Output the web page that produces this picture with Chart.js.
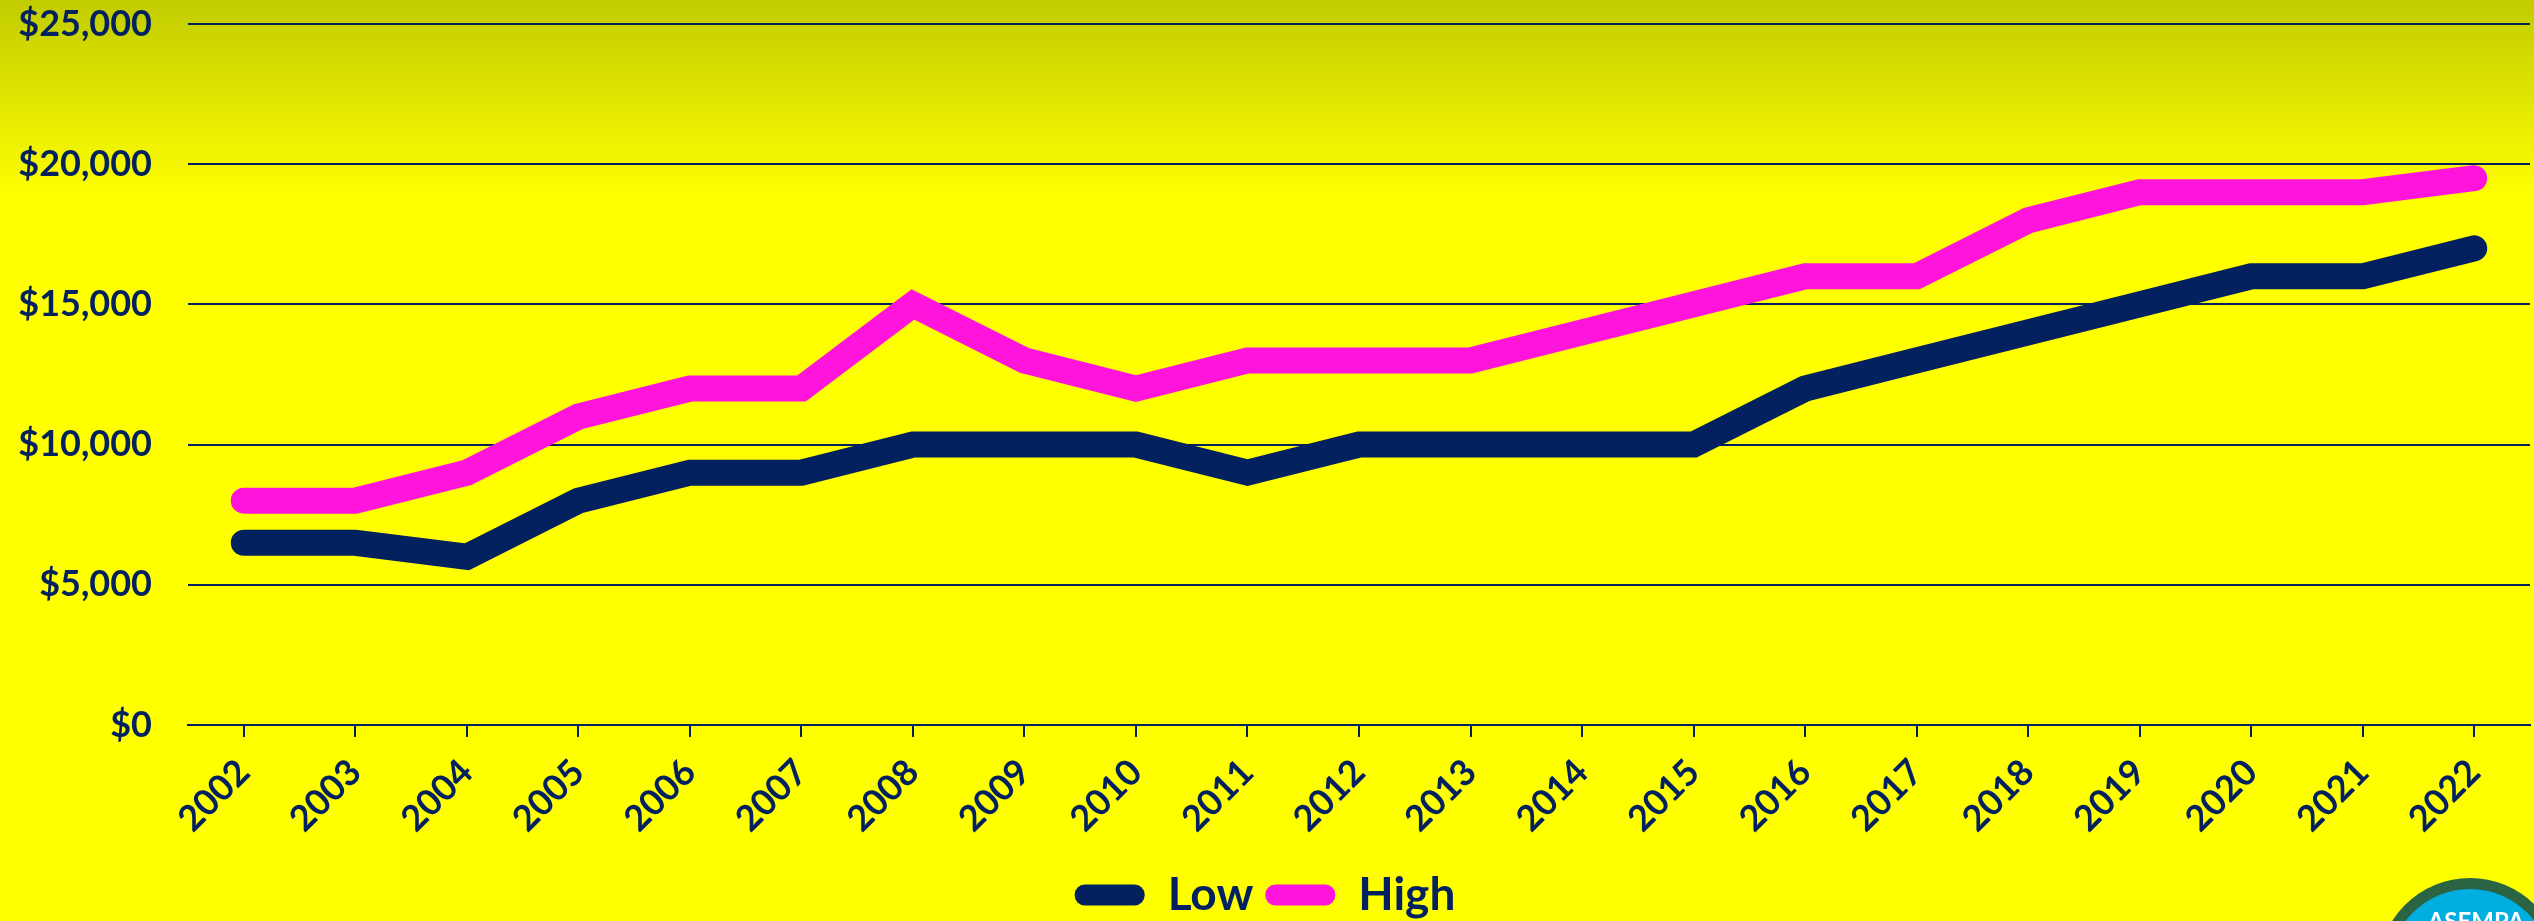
<!DOCTYPE html>
<html>
<head>
<meta charset="utf-8">
<script src="https://cdn.jsdelivr.net/npm/chart.js@4.4.0/dist/chart.umd.min.js"></script>
<style>
  html, body { margin: 0; padding: 0; background: #ffff00; }
</style>
</head>
<body>
<canvas id="myChart" width="2534" height="921"></canvas>
<script>
// data
const years = ['2002', '2003', '2004', '2005', '2006', '2007', '2008', '2009', '2010', '2011', '2012',
  '2013', '2014', '2015', '2016', '2017', '2018', '2019', '2020', '2021', '2022'];
const lowValues = [6500, 6500, 6000, 8000, 9000, 9000, 10000, 10000, 10000, 9000, 10000,
  10000, 10000, 10000, 12000, 13000, 14000, 15000, 16000, 16000, 17000];
const highValues = [8000, 8000, 9000, 11000, 12000, 12000, 15000, 13000, 12000, 13000, 13000,
  13000, 14000, 15000, 16000, 16000, 18000, 19000, 19000, 19000, 19500];
const yTicks = [0, 5000, 10000, 15000, 20000, 25000];

const navy = '#02215e';
const pink = '#ff14dc';

// yellow page with the olive fade at the top
const background = {
  id: 'background',
  beforeDraw(chart) {
    const { ctx, width, height } = chart;
    const g = ctx.createLinearGradient(0, 0, 0, 195);
    g.addColorStop(0, '#c1cc00');
    g.addColorStop(1, '#ffff00');
    ctx.save();
    ctx.fillStyle = g;
    ctx.fillRect(0, 0, width, height);
    ctx.restore();
  }
};

// the badge peeking in at the bottom right corner
const badge = {
  id: 'badge',
  afterDraw(chart) {
    const ctx = chart.ctx;
    ctx.save();
    ctx.beginPath();
    ctx.arc(2470, 970, 92, 0, Math.PI * 2);
    ctx.fillStyle = '#2b6443';
    ctx.fill();
    ctx.beginPath();
    ctx.arc(2470, 970, 81, 0, Math.PI * 2);
    ctx.fillStyle = '#00aee0';
    ctx.fill();
    ctx.fillStyle = '#ffffff';
    ctx.font = 'bold 24px Lato';
    ctx.textAlign = 'center';
    ctx.textBaseline = 'alphabetic';
    ctx.fillText('ASEMPA', 2476, 930);
    ctx.restore();
  }
};

const ctx = document.getElementById('myChart').getContext('2d');
new Chart(ctx, {
  type: 'line',
  data: {
    labels: years,
    datasets: [{
      label: 'Low',
      data: lowValues,
      borderColor: navy,
      backgroundColor: navy,
      borderWidth: 26,
      borderCapStyle: 'round',
      borderJoinStyle: 'miter',
      pointRadius: 0,
      tension: 0,
      fill: false,
    }, {
      label: 'High',
      data: highValues,
      borderColor: pink,
      backgroundColor: pink,
      borderWidth: 26,
      borderCapStyle: 'round',
      borderJoinStyle: 'miter',
      pointRadius: 0,
      tension: 0,
      fill: false,
    }],
  },
  options: {
    responsive: false,
    animation: false,
    devicePixelRatio: 1,
    layout: { padding: { top: 24, right: 4, left: 0, bottom: -7 } },
    plugins: {
      tooltip: { enabled: false },
      legend: {
        position: 'bottom',
        labels: {
          color: navy,
          font: { family: 'Lato', weight: 'bold', size: 46 },
          boxWidth: 70,
          boxHeight: 21,
          padding: 12,
          useBorderRadius: true,
          borderRadius: 10,
          generateLabels(chart) {
            return Chart.defaults.plugins.legend.labels.generateLabels(chart)
              .map(item => Object.assign(item, { lineWidth: 0 }));
          },
        },
      },
    },
    scales: {
      x: {
        offset: true,
        grid: { display: true, drawOnChartArea: false, drawTicks: true, tickLength: 12, color: navy, lineWidth: 2 },
        border: { display: true, color: navy, width: 2 },
        ticks: {
          color: navy,
          font: { family: 'Lato', weight: 'bold', size: 36 },
          minRotation: 45,
          maxRotation: 45,
          autoSkip: false,
          padding: 14,
        },
        afterFit(scale) { scale.height = 135; },
      },
      y: {
        min: 0,
        max: 25000,
        grid: { color: navy, lineWidth: 2, drawTicks: false },
        border: { display: false },
        ticks: {
          color: navy,
          font: { family: 'Lato', weight: 'bold', size: 36 },
          padding: 36,
          callback: v => '$' + v.toLocaleString('en-US'),
        },
        afterBuildTicks(axis) { axis.ticks = yTicks.map(v => ({ value: v })); },
        afterFit(scale) {
          scale.width = 188;
          // the label padding should not push the plot down
          scale.paddingTop = 0;
          scale.paddingBottom = 0;
        },
      },
    },
  },
  plugins: [background, badge],
});
</script>
</body>
</html>
